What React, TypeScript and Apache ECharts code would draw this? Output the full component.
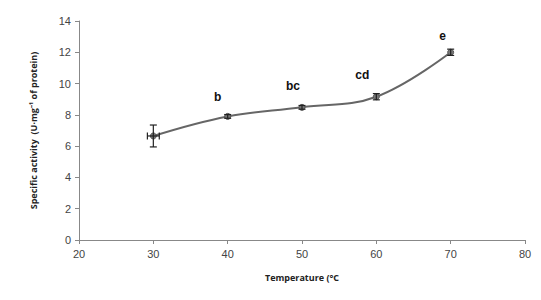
import React, { useEffect, useRef } from "react";
import * as echarts from "echarts";

const temps = [30, 40, 50, 60, 70];
const activity = [6.65, 7.9, 8.48, 9.16, 12.0];
const yErr = [0.7, 0.12, 0.12, 0.2, 0.2];
const xErr = [0.8, 0, 0, 0, 0];
const letters = ["", "b", "bc", "cd", "e"];
const xTicks = [20, 30, 40, 50, 60, 70, 80];

export default function App() {
  const ref = useRef<HTMLDivElement>(null);
  useEffect(() => {
    if (!ref.current) return;
    const chart = echarts.init(ref.current, undefined, { renderer: "svg" });
    const labelOffsets = [[0, 0], [-10, -5], [-9, -7], [-14, -7], [-8, -2]];
    const errData = temps.map((t, i) => [t, activity[i], activity[i] - yErr[i], activity[i] + yErr[i], t - xErr[i], t + xErr[i]]);
    chart.setOption({
      animation: false,
      grid: { left: 79, right: 16, top: 21, bottom: 60 },
      xAxis: {
        type: "value",
        min: xTicks[0],
        max: xTicks[xTicks.length - 1],
        interval: 10,
        name: "Temperature (°C",
        nameLocation: "middle",
        nameGap: 33,
        nameTextStyle: { fontFamily: "Open Sans", fontWeight: "bold", fontSize: 9, color: "#222" },
        axisLine: { lineStyle: { color: "#888", width: 1 } },
        axisTick: { show: true, length: 4, lineStyle: { color: "#888" } },
        axisLabel: { fontFamily: "Liberation Sans", fontSize: 11, color: "#444", margin: 8 },
        splitLine: { show: false },
      },
      yAxis: {
        type: "value",
        min: 0,
        max: 14,
        interval: 2,
        name: "Specific activity  (U·mg\u207B\u00B9 of protein)",
        nameLocation: "middle",
        nameGap: 41,
        nameTextStyle: { fontFamily: "Open Sans", fontWeight: "bold", fontSize: 9, color: "#222" },
        axisLine: { show: true, lineStyle: { color: "#888", width: 1 } },
        axisTick: { show: true, length: 4, lineStyle: { color: "#888" } },
        axisLabel: { fontFamily: "Liberation Sans", fontSize: 11, color: "#444", margin: 8 },
        splitLine: { show: false },
      },
      series: [
        {
          type: "line",
          smooth: 0.4,
          symbol: "circle",
          symbolSize: 6,
          data: temps.map((t, i) => ({
            value: [t, activity[i]],
            label: {
              show: letters[i] !== "",
              formatter: letters[i],
              position: "top",
              offset: labelOffsets[i],
              distance: 5,
              fontFamily: "Liberation Sans",
              fontWeight: "bold",
              fontSize: 12,
              color: "#111",
            },
          })),
          lineStyle: { color: "#666", width: 2 },
          itemStyle: { color: "#777", borderColor: "#555", borderWidth: 1 },
          z: 2,
        },
        {
          type: "custom",
          data: errData,
          z: 3,
          renderItem: (params: any, api: any) => {
            const x = api.value(0);
            const y = api.value(1);
            const lo = api.coord([x, api.value(2)]);
            const hi = api.coord([x, api.value(3)]);
            const xl = api.coord([api.value(4), y]);
            const xh = api.coord([api.value(5), y]);
            const c = api.coord([x, y]);
            const w = 3.5;
            const style = { stroke: "#222", lineWidth: 1.2 };
            const children: any[] = [
              { type: "line", shape: { x1: c[0], y1: lo[1], x2: c[0], y2: hi[1] }, style },
              { type: "line", shape: { x1: c[0] - w, y1: lo[1], x2: c[0] + w, y2: lo[1] }, style },
              { type: "line", shape: { x1: c[0] - w, y1: hi[1], x2: c[0] + w, y2: hi[1] }, style },
            ];
            if (xh[0] - xl[0] > 1) {
              children.push(
                { type: "line", shape: { x1: xl[0], y1: c[1], x2: xh[0], y2: c[1] }, style },
                { type: "line", shape: { x1: xl[0], y1: c[1] - w, x2: xl[0], y2: c[1] + w }, style },
                { type: "line", shape: { x1: xh[0], y1: c[1] - w, x2: xh[0], y2: c[1] + w }, style }
              );
            }
            return { type: "group", children };
          },
        },
      ],
    });
    return () => chart.dispose();
  }, []);
  return <div ref={ref} style={{ width: 541, height: 300, position: "absolute", left: 0, top: 0, background: "#fff" }} />;
}
